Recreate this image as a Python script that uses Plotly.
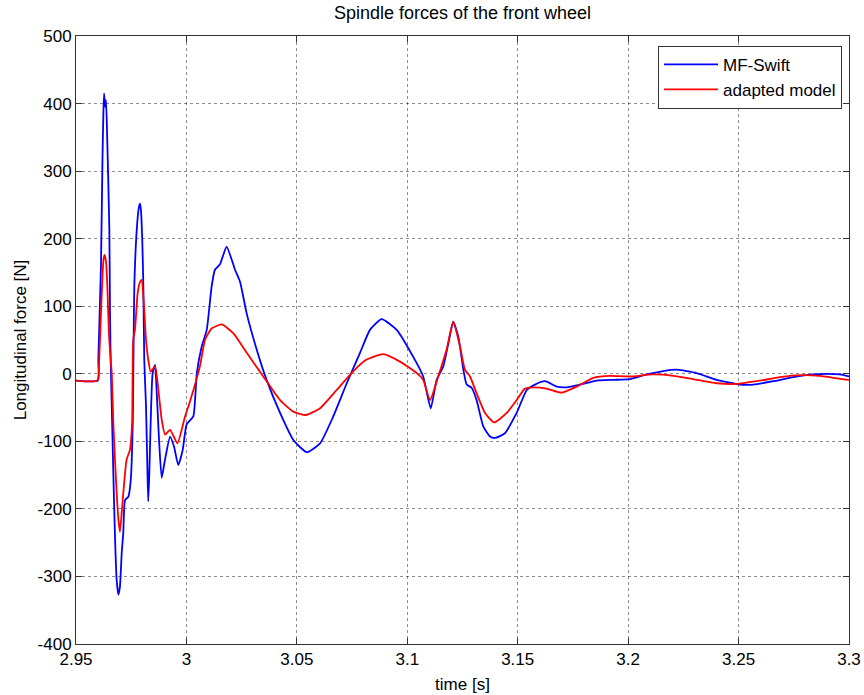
import plotly.graph_objects as go

# MF-Swift (blue)
t_blue = [2.9500, 2.9599, 2.9601, 2.9613, 2.9620, 2.9624, 2.9627, 2.9632, 2.9636, 2.9642,
          2.9651, 2.9654, 2.9657, 2.9662, 2.9669, 2.9677, 2.9684, 2.9692, 2.9699, 2.9707,
          2.9714, 2.9722, 2.9737, 2.9748, 2.9757, 2.9761, 2.9764, 2.9775, 2.9785, 2.9790,
          2.9794, 2.9800, 2.9805, 2.9809, 2.9817, 2.9823, 2.9827, 2.9832, 2.9838, 2.9847,
          2.9858, 2.9865, 2.9876, 2.9888, 2.9903, 2.9926, 2.9944, 2.9963, 2.9983, 3.0001,
          3.0031, 3.0047, 3.0069, 3.0092, 3.0114, 3.0129, 3.0152, 3.0182, 3.0220, 3.0243,
          3.0273, 3.0318, 3.0363, 3.0424, 3.0484, 3.0545, 3.0605, 3.0665, 3.0726, 3.0786,
          3.0831, 3.0884, 3.0952, 3.1027, 3.1072, 3.1106, 3.1133, 3.1163, 3.1186, 3.1208,
          3.1231, 3.1254, 3.1269, 3.1292, 3.1314, 3.1344, 3.1375, 3.1397, 3.1442, 3.1495,
          3.1541, 3.1578, 3.1624, 3.1677, 3.1722, 3.1782, 3.1858, 3.1933, 3.2008, 3.2084,
          3.2159, 3.2220, 3.2310, 3.2401, 3.2506, 3.2567, 3.2657, 3.2748, 3.2838, 3.2899,
          3.2959, 3.3000]
f_blue = [-10, -10, 20, 160, 320, 386, 415, 395, 405, 340,
          213, 90, 21, -49, -147, -246, -305, -327, -315, -265,
          -236, -187, -182, -157, -73, 50, 129, 213, 247, 252,
          242, 198, 129, 21, -48, -137, -189, -147, -73, 1,
          13, -24, -98, -154, -127, -93, -108, -135, -113, -75,
          -63, 1, 40, 65, 129, 154, 162, 188, 154, 136,
          89, 36, -9, -58, -98, -116, -103, -63, -14, 31,
          65, 81, 65, 25, -4, -51, -9, 11, 45, 77,
          55, 6, -16, -21, -39, -78, -93, -95, -88, -58,
          -24, -16, -11, -19, -20, -16, -10, -9, -8, -1,
          4, 6, 1, -9, -16, -16, -11, -5, -1, 0,
          -1, -4]

# adapted model (red)
t_red = [2.9500, 2.9597, 2.9605, 2.9616, 2.9624, 2.9629, 2.9636, 2.9642, 2.9649, 2.9657,
         2.9662, 2.9669, 2.9681, 2.9692, 2.9699, 2.9707, 2.9714, 2.9729, 2.9744, 2.9754,
         2.9759, 2.9767, 2.9779, 2.9790, 2.9797, 2.9808, 2.9817, 2.9827, 2.9838, 2.9858,
         2.9873, 2.9888, 2.9903, 2.9926, 2.9959, 2.9994, 3.0016, 3.0061, 3.0084, 3.0114,
         3.0160, 3.0212, 3.0273, 3.0348, 3.0424, 3.0484, 3.0541, 3.0605, 3.0680, 3.0756,
         3.0816, 3.0891, 3.0967, 3.1043, 3.1072, 3.1103, 3.1140, 3.1178, 3.1208, 3.1239,
         3.1261, 3.1284, 3.1314, 3.1352, 3.1393, 3.1450, 3.1495, 3.1533, 3.1571, 3.1631,
         3.1699, 3.1767, 3.1842, 3.1918, 3.2008, 3.2114, 3.2204, 3.2295, 3.2401, 3.2492,
         3.2582, 3.2688, 3.2778, 3.2869, 3.2929, 3.2997, 3.3000]
f_red = [-10, -10, 21, 114, 168, 176, 166, 129, 60, 21,
         0, -73, -157, -216, -234, -206, -177, -127, -113, -73,
         50, 65, 119, 136, 139, 100, 50, 21, 3, 11,
         -24, -68, -90, -83, -103, -63, -41, 11, 50, 67,
         73, 60, 31, -4, -39, -56, -61, -51, -24, 4,
         21, 29, 18, 1, -9, -39, -4, 36, 77, 40,
         6, -4, -29, -58, -72, -58, -39, -22, -20, -22,
         -28, -19, -6, -3, -4, -1, -3, -8, -14, -15,
         -11, -5, -2, -3, -6, -9, -9]

x_ticks = [2.95, 3.0, 3.05, 3.1, 3.15, 3.2, 3.25, 3.3]
x_tick_labels = ["2.95", "3", "3.05", "3.1", "3.15", "3.2", "3.25", "3.3"]
y_ticks = [-400, -300, -200, -100, 0, 100, 200, 300, 400, 500]
y_tick_labels = ["-400", "-300", "-200", "-100", "0", "100", "200", "300", "400", "500"]

FONT = "Liberation Sans, Arial, sans-serif"
TXT = dict(family=FONT, size=17, color="#000000")

fig = go.Figure()
fig.add_trace(go.Scatter(x=t_blue, y=f_blue, mode="lines", name="MF-Swift",
                         line=dict(color="#0000FF", width=1.8, shape="spline", smoothing=0.5)))
fig.add_trace(go.Scatter(x=t_red, y=f_red, mode="lines", name="adapted model",
                         line=dict(color="#FF0000", width=1.8, shape="spline", smoothing=0.5)))

axis_common = dict(
    showline=True, linecolor="#333333", linewidth=1, mirror="ticks",
    ticks="inside", ticklen=6, tickcolor="#333333",
    showgrid=True, gridcolor="rgba(0,0,0,0.45)", griddash="dot", gridwidth=1,
    zeroline=False, tickfont=TXT, automargin=False,
)

fig.update_layout(
    width=864, height=695,
    margin=dict(l=76, r=15, t=36, b=51, autoexpand=False),
    paper_bgcolor="white", plot_bgcolor="white",
    title=dict(text="Spindle forces of the front wheel", x=0.5, xref="paper", xanchor="center",
               y=1 - 13 / 695, yanchor="middle", yref="container",
               font=dict(family=FONT, size=18, color="#000000")),
    xaxis=dict(range=[2.95, 3.3], tickvals=x_ticks, ticktext=x_tick_labels,
               title=dict(text="time [s]", font=TXT, standoff=9),
               **axis_common),
    yaxis=dict(range=[-400, 500], tickvals=y_ticks, ticktext=y_tick_labels,
               title=dict(text="Longitudinal force [N]", font=TXT, standoff=6),
               **axis_common),
    legend=dict(x=0.991, y=0.984, xanchor="right", yanchor="top",
                bgcolor="white", bordercolor="#333333", borderwidth=1,
                font=TXT, itemwidth=54, tracegroupgap=0),
    showlegend=True,
)

fig.write_html("out.html")
